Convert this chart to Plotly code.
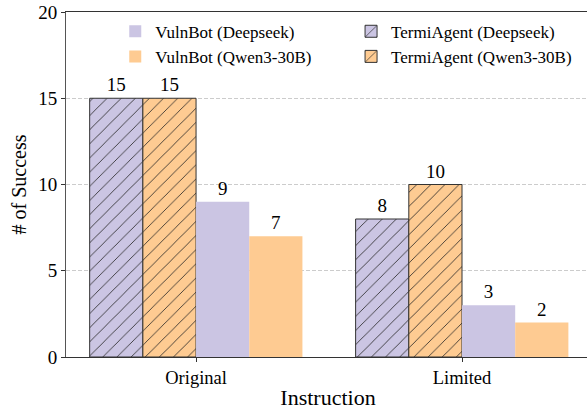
import plotly.graph_objects as go

categories = ["Original", "Limited"]
termi_deepseek = [15, 8]
termi_qwen = [15, 10]
vuln_deepseek = [9, 3]
vuln_qwen = [7, 2]
y_ticks = [0, 5, 10, 15, 20]

LAV = "#cbc5e3"
ORG = "#fecb92"
FONT = "Liberation Serif"

fig = go.Figure()

series = [
    ("TermiAgent (Deepseek)", termi_deepseek, LAV, True, -0.3, "legend2"),
    ("TermiAgent (Qwen3-30B)", termi_qwen, ORG, True, -0.1, "legend2"),
    ("VulnBot (Deepseek)", vuln_deepseek, LAV, False, 0.1, "legend"),
    ("VulnBot (Qwen3-30B)", vuln_qwen, ORG, False, 0.3, "legend"),
]

xidx = list(range(len(categories)))
for name, vals, col, hatch, off, leg in series:
    marker = dict(color=col)
    if hatch:
        marker["pattern"] = dict(shape="/", fgcolor="#222222", bgcolor=col, size=10, solidity=0.08, fillmode="replace")
        marker["line"] = dict(color="#333333", width=1)
    else:
        marker["line"] = dict(width=0)
    fig.add_trace(go.Bar(
        x=[i + off for i in xidx], y=vals, width=0.2, name=name, marker=marker,
        text=[str(v) for v in vals], textposition="outside",
        textfont=dict(family=FONT, size=19, color="black"),
        cliponaxis=False, legend=leg,
    ))

fig.update_layout(
    width=590, height=413,
    margin=dict(l=66, r=0, t=12, b=56, autoexpand=False),
    plot_bgcolor="white", paper_bgcolor="white",
    font=dict(family=FONT, color="black"),
    barmode="overlay",
    showlegend=True,
    legend=dict(x=0.094, y=0.995, xanchor="left", yanchor="top",
                font=dict(family=FONT, size=17), bgcolor="rgba(0,0,0,0)",
                tracegroupgap=0, itemwidth=30, traceorder="normal"),
    legend2=dict(x=0.544, y=0.995, xanchor="left", yanchor="top",
                 font=dict(family=FONT, size=17), bgcolor="rgba(0,0,0,0)",
                 tracegroupgap=0, itemwidth=30, traceorder="normal"),
)

fig.update_xaxes(
    range=[-0.489, 1.4813], tickmode="array", tickvals=xidx, ticktext=categories,
    tickfont=dict(family=FONT, size=18.5), ticks="outside", ticklen=4, tickcolor="#333",
    showline=True, linecolor="#333", linewidth=1, mirror=True, showgrid=False,
    title=dict(text="Instruction", font=dict(family=FONT, size=22), standoff=2),
    zeroline=False, automargin=False,
)
fig.update_yaxes(
    range=[0, 20], tickmode="array", tickvals=y_ticks,
    tickfont=dict(family=FONT, size=19), ticks="outside", ticklen=4, tickcolor="#333",
    showline=True, linecolor="#555", linewidth=1, mirror=True,
    showgrid=True, gridcolor="#cccccc", griddash="4px,2px", gridwidth=1,
    title=dict(text="# of Success", font=dict(family=FONT, size=20), standoff=6),
    zeroline=False, automargin=False, ticklabeloverflow="allow",
)

fig.write_html("out.html", config={"displayModeBar": False},
               post_script="document.body.style.margin='0';document.body.style.overflow='hidden';")
